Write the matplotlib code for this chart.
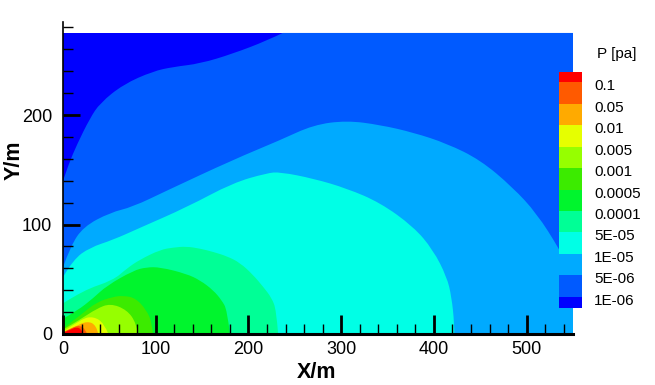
import matplotlib

matplotlib.use("Agg")
import matplotlib.pyplot as plt
from matplotlib.patches import PathPatch
from matplotlib.path import Path

plt.rcParams["font.family"] = ["Liberation Sans", "DejaVu Sans"]

W, H = 655, 385

# contour levels, top of the legend first
level_labels = ["0.1", "0.05", "0.01", "0.005", "0.001", "0.0005", "0.0001",
                "5E-05", "1E-05", "5E-06", "1E-06"]
band_colors = ["#ff0000", "#ff5a00", "#ffaa00", "#e6ff00", "#96ff00", "#3ceb00", "#00f52d",
               "#00ff96", "#00ffe6", "#00aaff", "#005aff", "#0000ff"]
band_sizes = [0.5, 1, 1, 1, 1, 1, 1, 1, 1, 1, 1, 0.5]

# contour boundaries, wall to floor
x_top, y_top = 550, 275
x_blue = [0, 6, 15, 29, 40, 65, 97, 119, 148, 183, 220, 237]
y_blue = [140, 155, 173, 197, 211, 228, 240, 244, 247, 256, 268, 275]
x_mid = [0, 8, 22, 51, 75, 112, 183, 234, 270, 306, 342, 378, 414, 450, 485, 511, 535, 550]
y_mid = [61, 80, 98, 111, 116, 131, 159, 177, 191, 195, 191, 184, 174, 159, 134, 110, 78, 55]
x_light = [0, 11, 29, 54, 83, 134, 183, 220, 234, 270, 306, 342, 378, 399, 414, 419, 422, 422]
y_light = [52, 68, 79, 86, 97, 116, 138, 147, 148, 142, 133, 120, 98, 77, 52, 34, 10, 0]
x_cyan = [0, 22, 54, 69, 83, 105, 119, 133, 148, 162, 177, 191, 205, 216, 225, 230, 232]
y_cyan = [28, 40, 49, 60, 68, 77, 79, 80, 78, 75, 71, 65, 54, 43, 33, 22, 0]
x_spring = [0, 15, 33, 47, 76, 90, 105, 133, 148, 162, 171, 177, 180]
y_spring = [14, 21, 33, 44, 58, 61, 61, 55, 49, 40, 31, 22, 0]
x_green = [0, 20, 36, 54, 65, 78, 90, 96, 97]
y_green = [5, 18, 29, 34, 35, 33, 22, 10, 0]
x_lime = [0, 20, 36, 51, 69, 79, 81]
y_lime = [4, 14, 23, 28, 22, 10, 0]
x_yellow = [0, 20, 33, 44, 49]
y_yellow = [2, 14, 16, 10, 0]
x_orange = [0, 11, 26, 36, 38]
y_orange = [1, 6, 12, 8, 0]
x_redorange = [0, 10, 19, 24, 26]
y_redorange = [1.5, 6, 8, 4, 0]
x_red = [0, 8, 15, 20, 22]
y_red = [1, 4, 6.5, 4, 0]


def contour_patch(xs, ys, color, corners=((0, 0),)):
    """Closed region under a boundary, rounded with quadratic segments."""
    verts = [(0, 0), (xs[0], ys[0])]
    codes = [Path.MOVETO, Path.LINETO]
    for i in range(1, len(xs) - 1):
        if i < len(xs) - 2:
            end = ((xs[i] + xs[i + 1]) / 2, (ys[i] + ys[i + 1]) / 2)
        else:
            end = (xs[i + 1], ys[i + 1])
        verts += [(xs[i], ys[i]), end]
        codes += [Path.CURVE3, Path.CURVE3]
    for corner in corners:
        verts.append(corner)
        codes.append(Path.LINETO)
    return PathPatch(Path(verts, codes), facecolor=color, edgecolor="none", lw=0)


fig = plt.figure(figsize=(W / 100, H / 100), dpi=100)
ax = fig.add_axes([63 / W, 1 - 334 / H, 510 / W, 312 / H])

# outermost first, each region painted over the previous one
ax.fill([0, x_top, x_top, 0], [0, 0, y_top, y_top], color=band_colors[11], lw=0)
ax.add_patch(contour_patch(x_blue, y_blue, band_colors[10],
                           corners=((x_top, y_top), (x_top, 0), (0, 0))))
ax.add_patch(contour_patch(x_mid, y_mid, band_colors[9], corners=((x_top, 0), (0, 0))))
regions = [
    (x_light, y_light, 8), (x_cyan, y_cyan, 7), (x_spring, y_spring, 6),
    (x_green, y_green, 5), (x_lime, y_lime, 4), (x_yellow, y_yellow, 3),
    (x_orange, y_orange, 2), (x_redorange, y_redorange, 1), (x_red, y_red, 0),
]
for xs, ys, idx in regions:
    ax.add_patch(contour_patch(xs, ys, band_colors[idx]))

ax.set_xlim(0, 550)
ax.set_ylim(0, 285)
ax.set_xticks(range(0, 501, 100))
ax.set_xticks(range(0, 541, 20), minor=True)
ax.set_yticks(range(0, 201, 100))
ax.set_yticks(range(0, 281, 20), minor=True)
ax.tick_params(which="major", direction="in", width=2, labelsize=13)
ax.tick_params(axis="x", which="major", length=14, pad=5)
ax.tick_params(axis="y", which="major", length=12, pad=8)
ax.tick_params(which="minor", direction="in", length=7, width=1)
for side in ["top", "right"]:
    ax.spines[side].set_visible(False)
ax.spines["left"].set_linewidth(1.2)
ax.spines["bottom"].set_linewidth(2.2)
ax.set_xlabel("X/m", fontsize=15.5, fontweight="bold")
ax.set_ylabel("Y/m", fontsize=15.5, fontweight="bold")
ax.xaxis.set_label_coords(0.498, -0.122)
ax.yaxis.set_label_coords(-0.096, 0.558)
ax.xaxis.label.set_va("center")
ax.yaxis.label.set_va("center")

# legend bar
cax = fig.add_axes([559 / W, 1 - 307.5 / H, 23 / W, 236 / H])
bottom = 0
for size, color in zip(band_sizes[::-1], band_colors[::-1]):
    cax.bar(0, size, bottom=bottom, width=1, color=color, lw=0)
    bottom += size
cax.set_xlim(-0.5, 0.5)
cax.set_ylim(0, bottom)
cax.axis("off")
for i, label in enumerate(level_labels):
    cax.text(1.52, 10.31 - i, label, transform=cax.get_yaxis_transform(), fontsize=11,
             va="center", ha="left", clip_on=False)
fig.text(597 / W, 1 - 54 / H, "P [pa]", fontsize=11, va="center", ha="left")

fig.savefig("out.png", dpi=100)
